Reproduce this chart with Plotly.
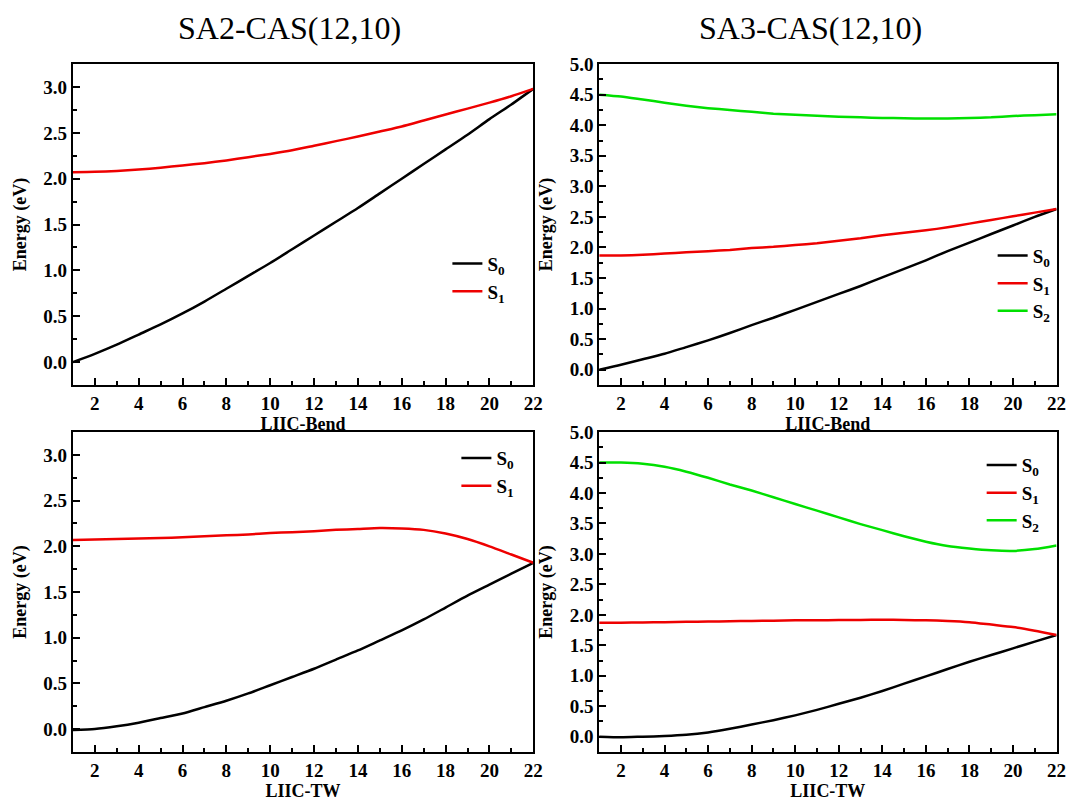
import plotly.graph_objects as go

x = list(range(1, 23))

# SA2-CAS(12,10), LIIC-Bend
sa2_bend_s0 = [0.00, 0.09, 0.19, 0.30, 0.41, 0.53, 0.66, 0.80, 0.94, 1.08, 1.23,
               1.38, 1.53, 1.68, 1.84, 2.00, 2.16, 2.32, 2.48, 2.65, 2.81, 2.98]
sa2_bend_s1 = [2.07, 2.075, 2.085, 2.10, 2.12, 2.145, 2.17, 2.20, 2.235, 2.27, 2.31,
               2.36, 2.41, 2.46, 2.515, 2.57, 2.635, 2.70, 2.765, 2.83, 2.90, 2.98]

# SA3-CAS(12,10), LIIC-Bend
sa3_bend_s0 = [0.00, 0.08, 0.17, 0.26, 0.37, 0.48, 0.60, 0.73, 0.85, 0.98, 1.11,
               1.24, 1.37, 1.51, 1.65, 1.79, 1.94, 2.08, 2.22, 2.36, 2.50, 2.63]
sa3_bend_s1 = [1.87, 1.87, 1.88, 1.90, 1.92, 1.94, 1.96, 1.99, 2.01, 2.04, 2.07,
               2.11, 2.15, 2.20, 2.24, 2.28, 2.33, 2.39, 2.45, 2.51, 2.57, 2.63]
sa3_bend_s2 = [4.50, 4.47, 4.42, 4.37, 4.32, 4.28, 4.25, 4.22, 4.19, 4.17, 4.155,
               4.14, 4.13, 4.12, 4.115, 4.11, 4.11, 4.12, 4.13, 4.15, 4.165, 4.18]

# SA2-CAS(12,10), LIIC-TW
sa2_tw_s0 = [-0.01, 0.00, 0.03, 0.07, 0.12, 0.17, 0.24, 0.31, 0.39, 0.48, 0.57,
             0.66, 0.76, 0.86, 0.97, 1.08, 1.20, 1.33, 1.46, 1.58, 1.70, 1.82]
sa2_tw_s1 = [2.07, 2.075, 2.08, 2.085, 2.09, 2.10, 2.11, 2.12, 2.13, 2.145, 2.155,
             2.165, 2.18, 2.19, 2.20, 2.195, 2.18, 2.14, 2.08, 2.00, 1.91, 1.82]

# SA3-CAS(12,10), LIIC-TW
sa3_tw_s0 = [0.00, -0.01, 0.00, 0.01, 0.03, 0.07, 0.13, 0.20, 0.27, 0.35, 0.44,
             0.54, 0.64, 0.75, 0.87, 0.99, 1.11, 1.23, 1.34, 1.45, 1.56, 1.67]
sa3_tw_s1 = [1.87, 1.87, 1.875, 1.88, 1.885, 1.89, 1.895, 1.90, 1.905, 1.91, 1.91,
             1.915, 1.915, 1.92, 1.915, 1.91, 1.90, 1.88, 1.84, 1.80, 1.74, 1.67]
sa3_tw_s2 = [4.50, 4.50, 4.48, 4.43, 4.35, 4.25, 4.14, 4.04, 3.93, 3.82, 3.71,
             3.60, 3.49, 3.39, 3.29, 3.20, 3.13, 3.09, 3.06, 3.05, 3.08, 3.14]

titles = ["SA2-CAS(12,10)", "SA3-CAS(12,10)"]
xlabels = ["LIIC-Bend", "LIIC-TW"]
names = ["S<sub>0</sub>", "S<sub>1</sub>", "S<sub>2</sub>"]
colors = ["#000000", "#ee0000", "#00e000"]

FONT = "Liberation Serif"

panels = [
    ([sa2_bend_s0, sa2_bend_s1], "x", "y", "legend", [-0.25, 3.25]),
    ([sa3_bend_s0, sa3_bend_s1, sa3_bend_s2], "x2", "y2", "legend2", [-0.25, 5.0]),
    ([sa2_tw_s0, sa2_tw_s1], "x3", "y3", "legend3", [-0.25, 3.25]),
    ([sa3_tw_s0, sa3_tw_s1, sa3_tw_s2], "x4", "y4", "legend4", [-0.25, 5.0]),
]

fig = go.Figure()
for series, xa, ya, lg, _ in panels:
    for i, ys in enumerate(series):
        fig.add_trace(go.Scatter(
            x=x, y=ys, mode="lines", name=names[i], xaxis=xa, yaxis=ya,
            legend=lg, line=dict(color=colors[i], width=2.5, shape="spline", smoothing=0.6),
        ))

W, H = 1070, 803


# map target screen pixels to paper fractions (corrects the observed page offset/scale)
def sx(px):
    return (px / 0.992) / W


def sy(py):
    return 1 - ((py - 10) / 0.985) / H


xdom = [[sx(73), sx(534)], [sx(600), sx(1058)]]
ydom = [[sy(384), sy(64)], [sy(750), sy(431)]]

tickfont = dict(family=FONT, size=19, color="black", weight="bold")
titlefont = dict(family=FONT, size=18, color="black", weight="bold")

layout = dict(
    width=W, height=H,
    margin=dict(l=0, r=0, t=0, b=0),
    paper_bgcolor="white", plot_bgcolor="white",
    font=dict(family=FONT, color="black"),
)

for k, (series, xa, ya, lg, yr) in enumerate(panels):
    row, col = divmod(k, 2)
    xkey = "xaxis" if k == 0 else f"xaxis{k+1}"
    ykey = "yaxis" if k == 0 else f"yaxis{k+1}"
    layout[xkey] = dict(
        domain=xdom[col], anchor=ya, range=[1, 22],
        tickmode="linear", tick0=2, dtick=2,
        ticks="inside", ticklen=7, tickwidth=2, tickcolor="black",
        minor=dict(ticks="inside", ticklen=4, tickwidth=2, tickcolor="black", dtick=1, tick0=1),
        showline=True, linecolor="black", linewidth=2, mirror=True,
        showgrid=False, zeroline=False, tickfont=tickfont,
        title=dict(text=xlabels[row], font=titlefont, standoff=0),
    )
    layout[ykey] = dict(
        domain=ydom[row], anchor=xa, range=yr,
        tickmode="linear", tick0=0, dtick=0.5, tickformat=".1f",
        ticks="inside", ticklen=7, tickwidth=2, tickcolor="black",
        minor=dict(ticks="inside", ticklen=4, tickwidth=2, tickcolor="black", dtick=0.25),
        showline=True, linecolor="black", linewidth=2, mirror=True,
        showgrid=False, zeroline=False, tickfont=tickfont,
        title=dict(text="Energy (eV)", font=titlefont, standoff=12),
    )

legpos = [(448, 244), (994, 236), (457, 438), (983, 445)]
for k, (px, py) in enumerate(legpos):
    key = "legend" if k == 0 else f"legend{k+1}"
    layout[key] = dict(
        x=sx(px), y=sy(py), xanchor="left", yanchor="top",
        bgcolor="rgba(0,0,0,0)", borderwidth=0,
        font=dict(family=FONT, size=19, color="black", weight="bold"),
        tracegroupgap=0,
    )

layout["annotations"] = [
    dict(text=titles[0], x=sx(290), y=sy(28), xref="paper", yref="paper",
         xanchor="center", yanchor="middle",
         showarrow=False, font=dict(family=FONT, size=32, color="black")),
    dict(text=titles[1], x=sx(812), y=sy(28), xref="paper", yref="paper",
         xanchor="center", yanchor="middle",
         showarrow=False, font=dict(family=FONT, size=32, color="black")),
]

fig.update_layout(**layout)
fig.write_html(
    "out.html",
    config={"displayModeBar": False},
    post_script="document.body.style.margin='0px';document.body.style.overflow='hidden';",
)
